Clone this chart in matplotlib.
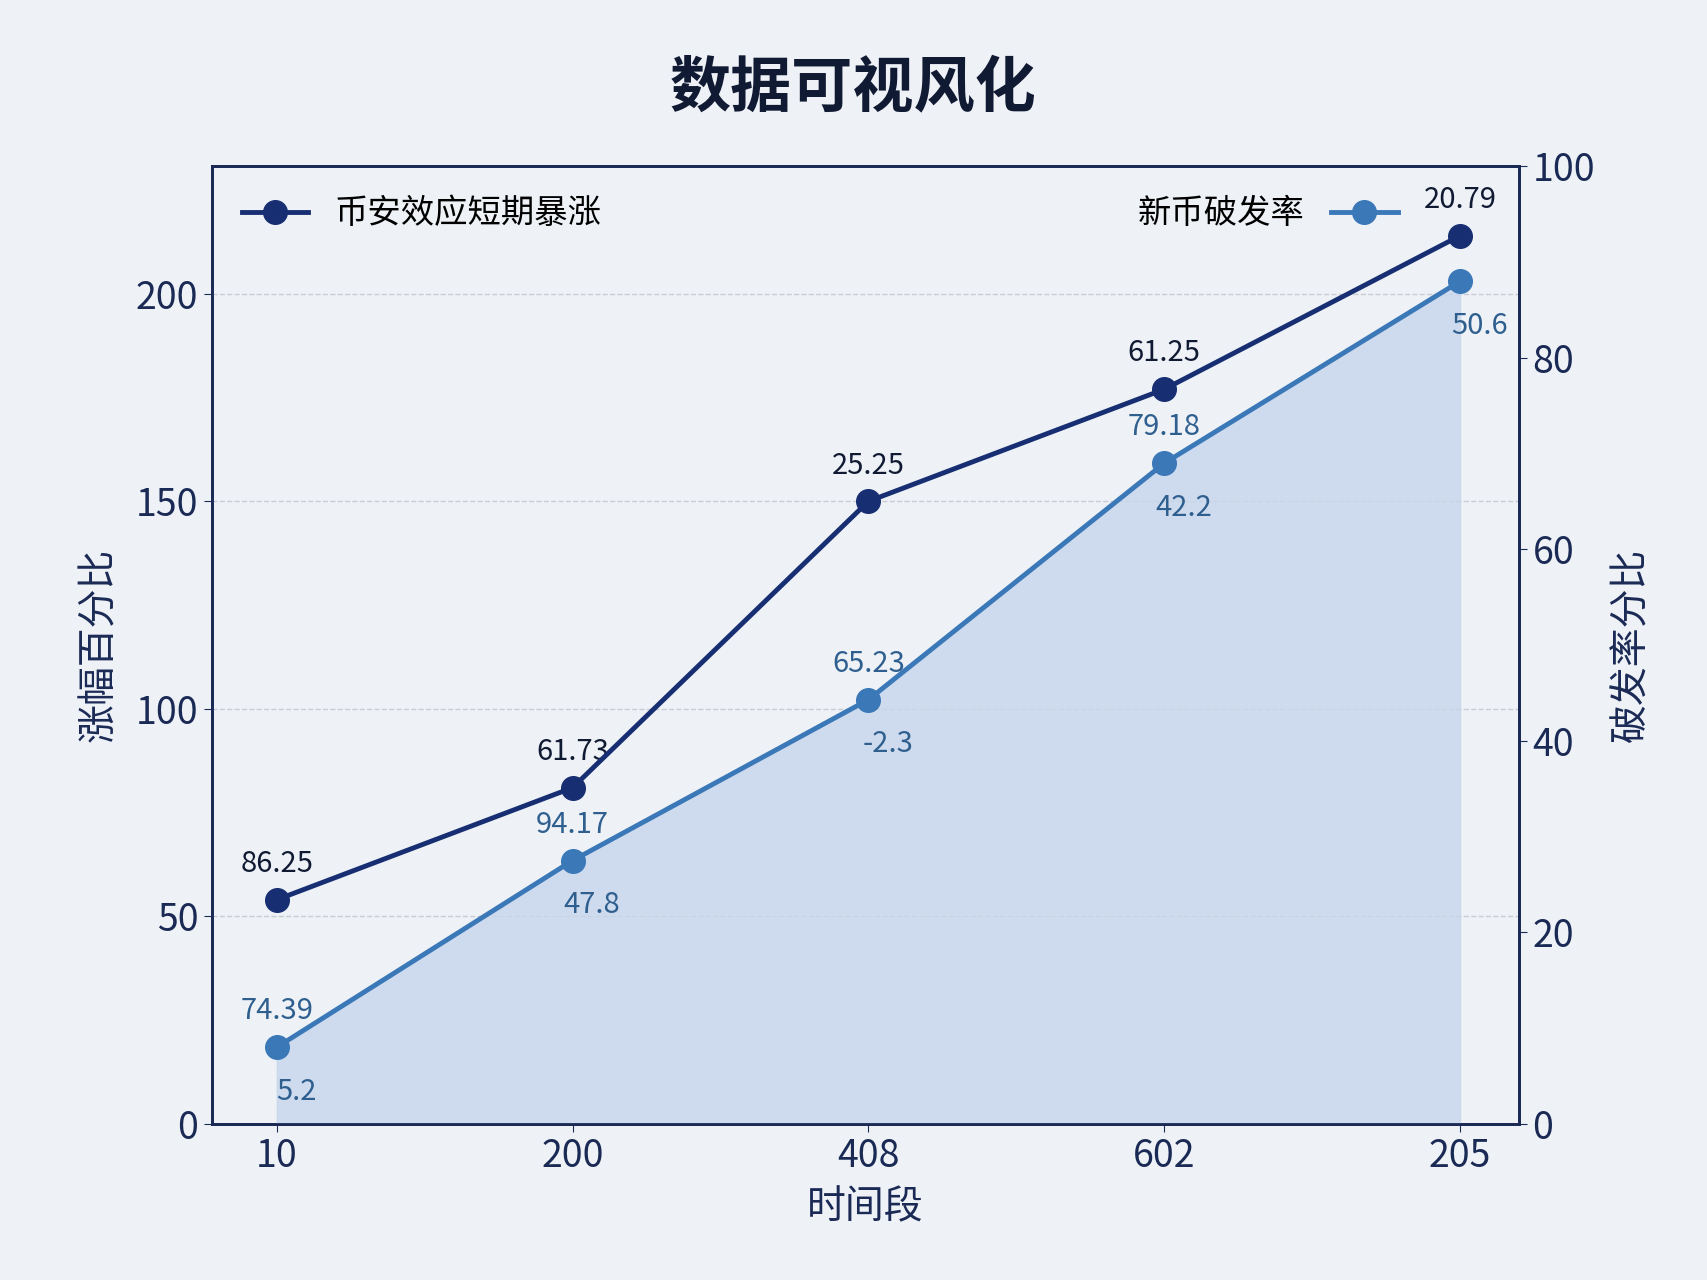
import matplotlib
matplotlib.use("Agg")
import matplotlib.pyplot as plt

plt.rcParams['font.family'] = ['Noto Sans CJK SC', 'DejaVu Sans']

categories = ["10", "200", "408", "602", "205"]
dark_values = [54, 81, 150, 177, 214]
light_values = [8, 27.5, 44.3, 69, 88]
dark_labels = ["86.25", "61.73", "25.25", "61.25", "20.79"]
light_top_labels = ["74.39", "94.17", "65.23", "79.18", ""]
light_bottom_labels = ["5.2", "47.8", "-2.3", "42.2", "50.6"]

dark_c = "#172f72"
light_c = "#3b78b8"
bg = "#eef2f7"

fig = plt.figure(figsize=(17.07, 12.8), dpi=100, facecolor=bg)
ax = fig.add_axes([0.124, 0.122, 0.766, 0.748], facecolor=bg)
ax2 = ax.twinx()
x = list(range(len(categories)))

ax.plot(x, dark_values, color=dark_c, lw=3.5, marker='o', ms=17, label="币安效应短期暴涨", zorder=5)
ax2.fill_between(x, light_values, 0, color="#c6d6ec", alpha=0.8, zorder=1)
ax2.plot(x, light_values, color=light_c, lw=3.5, marker='o', ms=17, label="新币破发率", zorder=5)

for xi, v, t in zip(x, dark_values, dark_labels):
    ax.annotate(t, (xi, v), xytext=(0, 20), textcoords='offset points', ha='center', fontsize=21, color="#111a33")
for xi, v, t in zip(x, light_values, light_top_labels):
    if t:
        ax2.annotate(t, (xi, v), xytext=(0, 20), textcoords='offset points', ha='center', fontsize=21, color="#2f5f8f")
for xi, v, t in zip(x, light_values, light_bottom_labels):
    ax2.annotate(t, (xi, v), xytext=(14, -38), textcoords='offset points', ha='center', fontsize=21, color="#2f5f8f")

ax.set_ylim(0, 230.7)
ax2.set_ylim(0, 100)
ax.set_xlim(-0.22, 4.2)
ax.set_yticks([0, 50, 100, 150, 200])
ax2.set_yticks([0, 20, 40, 60, 80, 100])
ax.set_xticks(x)
ax.set_xticklabels(categories)
ax.tick_params(labelsize=27, colors="#1a2a55", length=6)
ax2.tick_params(labelsize=27, colors="#1a2a55", length=6)
ax.grid(axis='y', color="#c8ccd4", ls='--', lw=1)
for a in (ax, ax2):
    for s in a.spines.values():
        s.set_color("#1a2a55"); s.set_linewidth(2)

ax.set_xlabel("时间段", fontsize=28, color="#1a2a55", labelpad=8)
ax.set_ylabel("涨幅百分比", fontsize=28, color="#1a2a55", labelpad=12)
ax2.set_ylabel("破发率分比", fontsize=28, color="#1a2a55", labelpad=12)
fig.suptitle("数据可视风化", fontsize=44, fontweight='bold', color="#111a33", y=0.955)

ax.legend(loc='upper left', fontsize=24, frameon=False)
ax2.legend(loc='upper right', fontsize=24, frameon=False, markerfirst=False, bbox_to_anchor=(0.93, 1.0))

fig.savefig("out.png", dpi=100, facecolor=bg)
